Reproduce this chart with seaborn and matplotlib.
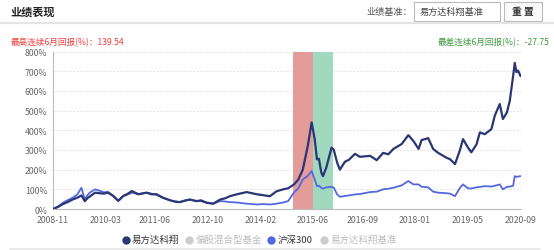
import matplotlib
matplotlib.use("Agg")
import matplotlib.pyplot as plt
from matplotlib.patches import Rectangle
from matplotlib.lines import Line2D
from matplotlib.ticker import FuncFormatter
import pandas as pd
import seaborn as sns

# ---------------- data ----------------
dates = [
    "2008-11-01", "2008-12-16", "2009-02-01", "2009-03-16", "2009-05-01", "2009-06-16",
    "2009-07-22", "2009-08-22", "2009-09-16", "2009-10-07", "2009-11-25", "2010-01-10",
    "2010-02-15", "2010-03-25", "2010-05-13", "2010-06-28", "2010-08-13", "2010-09-16",
    "2010-11-01", "2011-01-01", "2011-03-16", "2011-05-01", "2011-06-16", "2011-08-16",
    "2011-10-16", "2011-12-01", "2012-01-19", "2012-03-01", "2012-04-19", "2012-06-22",
    "2012-08-01", "2012-09-22", "2012-11-22", "2013-01-25", "2013-03-16", "2013-04-25",
    "2013-07-01", "2013-09-28", "2013-11-16", "2013-12-28", "2014-03-01", "2014-05-01",
    "2014-07-01", "2014-09-01", "2014-10-16", "2014-12-10", "2015-01-19", "2015-03-01",
    "2015-04-16", "2015-05-22", "2015-06-19", "2015-07-10", "2015-07-28", "2015-08-19",
    "2015-09-04", "2015-10-04", "2015-11-22", "2015-12-13", "2016-01-13", "2016-02-07",
    "2016-03-25", "2016-05-01", "2016-06-25", "2016-08-10", "2016-11-13", "2017-01-13",
    "2017-03-13", "2017-05-01", "2017-06-16", "2017-09-01", "2017-11-01", "2017-12-19",
    "2018-02-04", "2018-03-04", "2018-05-04", "2018-06-19", "2018-08-04", "2018-10-22",
    "2018-11-22", "2019-01-07", "2019-02-22", "2019-03-22", "2019-05-07", "2019-06-07",
    "2019-07-25", "2019-08-25", "2019-10-10", "2019-12-10", "2020-01-10", "2020-02-25",
    "2020-03-25", "2020-05-01", "2020-05-28", "2020-06-28", "2020-07-13", "2020-07-28",
    "2020-08-13", "2020-09-04",
]
fund = [
    0, 10, 25, 35, 48, 58,
    69, 40, 55, 63, 83, 80,
    78, 83, 66, 42, 66, 75,
    91, 75, 83, 75, 75, 57,
    45, 38, 35, 42, 48, 40,
    44, 32, 27, 48, 55, 65,
    75, 86, 80, 75, 70, 65,
    90, 100, 105, 125, 150, 200,
    320, 440, 355, 252, 255, 185,
    167, 210, 312, 300, 235, 200,
    240, 250, 280, 265, 270, 248,
    285, 278, 305, 330, 375, 345,
    305, 350, 360, 305, 285, 260,
    253, 228, 300, 355, 312, 288,
    328, 389, 380, 406, 474, 533,
    457, 490, 550, 677, 742, 695,
    703, 675,
]
hs300 = [
    0, 12, 32, 45, 57, 75,
    108, 48, 70, 83, 100, 92,
    85, 87, 66, 40, 66, 72,
    83, 75, 83, 78, 72, 57,
    45, 38, 35, 42, 48, 40,
    40, 32, 27, 40, 38, 35,
    33, 27, 25, 23, 25, 23,
    27, 33, 40, 84, 105, 150,
    168, 193, 150, 116, 118, 108,
    103, 110, 113, 108, 74, 62,
    66, 69, 74, 76, 86, 88,
    100, 103, 108, 120, 142, 125,
    125, 113, 110, 88, 83, 80,
    78, 65, 108, 125, 105, 104,
    110, 112, 116, 114, 118, 125,
    100, 112, 114, 118, 167, 163,
    165, 167,
]
tick_labels = ["2008-11", "2010-03", "2011-06", "2012-10", "2014-02",
               "2015-06", "2016-09", "2018-01", "2019-05", "2020-09"]
y_ticks = [0, 100, 200, 300, 400, 500, 600, 700, 800]
best_period = ("2014-12-01", "2015-06-01")
worst_period = ("2015-06-01", "2015-12-01")
legend_names = ["易方达科翔", "偏股混合型基金", "沪深300", "易方达科翔基准"]
best_ret = 139.54
worst_ret = -27.75
benchmark_name = "易方达科翔基准"

# ---------------- style ----------------
sns.set_style("white")
plt.rcParams["font.family"] = ["Noto Sans CJK SC", "DejaVu Sans"]

W, H = 554, 251
fig = plt.figure(figsize=(W / 100, H / 100), dpi=100)

def fx(x):
    return x / W

def fy(y):
    return 1 - y / H

C_FUND = "#2a3675"
C_HS = "#5468dd"
C_GRAY = "#cccccc"

# ---------------- header ----------------
fig.text(fx(10), fy(12.5), "业绩表现", fontsize=8, fontweight="bold",
         color="#222222", va="center", ha="left")
fig.add_artist(Line2D([0, 1], [fy(24), fy(24)], transform=fig.transFigure,
                      color="#e4e4e4", lw=1.6))
fig.text(fx(366), fy(12.5), "业绩基准：", fontsize=6.6, color="#555555",
         va="center", ha="left")
fig.add_artist(Rectangle((fx(414), fy(22)), fx(86), 19 / H, transform=fig.transFigure,
                         facecolor="white", edgecolor="#bbbbbb", lw=0.8))
fig.text(fx(420), fy(12.5), benchmark_name, fontsize=6.6, color="#444444",
         va="center", ha="left")
fig.add_artist(Rectangle((fx(503.5), fy(22)), fx(38.5), 19 / H, transform=fig.transFigure,
                         facecolor="#fafafa", edgecolor="#bbbbbb", lw=0.8))
fig.text(fx(522.5), fy(12.5), "重 置", fontsize=7, color="#333333",
         va="center", ha="center", fontweight="bold")

fig.text(fx(10.5), fy(42.5), f"最高连续6月回报(%)：{best_ret:.2f}", fontsize=6.2,
         color="#f03c3c", va="center", ha="left")
fig.text(fx(549), fy(42.5), f"最差连续6月回报(%)：{worst_ret:.2f}", fontsize=6.2,
         color="#3f9a3f", va="center", ha="right")

# ---------------- chart ----------------
ax = fig.add_axes([fx(53), fy(210), fx(520.5 - 53), (210 - 52.5) / H])

df = pd.DataFrame({"date": pd.to_datetime(dates), "fund": fund, "hs300": hs300})

ax.axvspan(pd.Timestamp(best_period[0]), pd.Timestamp(best_period[1]),
           color="#e49c9a", lw=0, zorder=1)
ax.axvspan(pd.Timestamp(worst_period[0]), pd.Timestamp(worst_period[1]),
           color="#a0d9bf", lw=0, zorder=1)

sns.lineplot(data=df, x="date", y="hs300", color=C_HS, lw=1.3, ax=ax, zorder=3)
sns.lineplot(data=df, x="date", y="fund", color=C_FUND, lw=1.6, ax=ax, zorder=4)

ax.set_ylim(0, 800)
ax.set_xlim(pd.Timestamp("2008-11-01"), pd.Timestamp("2020-09-04"))
ax.set_yticks(y_ticks)
ax.yaxis.set_major_formatter(FuncFormatter(lambda v, p: f"{int(v)}%"))
ax.set_xticks(pd.to_datetime([t + "-01" for t in tick_labels]))
ax.set_xticklabels(tick_labels)
ax.set_xlabel("")
ax.set_ylabel("")

for v in y_ticks[1:]:
    ax.axhline(v, color="#dddddd", lw=0.6, ls=(0, (2, 2)), zorder=0)

for s in ["top", "right"]:
    ax.spines[s].set_visible(False)
for s in ["left", "bottom"]:
    ax.spines[s].set_color("#bbbbbb")
    ax.spines[s].set_linewidth(0.8)
ax.tick_params(axis="both", labelsize=6.3, colors="#666666", length=2.5,
               width=0.6, pad=1.5)
ax.tick_params(axis="both", color="#bbbbbb")

# ---------------- legend ----------------
leg_items = [
    (125.5, legend_names[0], C_FUND, "#333333"),
    (189, legend_names[1], C_GRAY, "#bbbbbb"),
    (271, legend_names[2], C_HS, "#333333"),
    (324, legend_names[3], C_GRAY, "#bbbbbb"),
]
for x, name, mc, tc in leg_items:
    fig.add_artist(Line2D([fx(x)], [fy(240.5)], transform=fig.transFigure,
                          marker="o", markersize=5, color=mc, lw=0))
    fig.text(fx(x + 6.5), fy(240.5), name, fontsize=6.8, color=tc,
             va="center", ha="left")

fig.add_artist(Line2D([fx(10), fx(540)], [fy(250), fy(250)], transform=fig.transFigure,
                      color="#e6e6e6", lw=1.2))

fig.savefig("out.png", dpi=100)
